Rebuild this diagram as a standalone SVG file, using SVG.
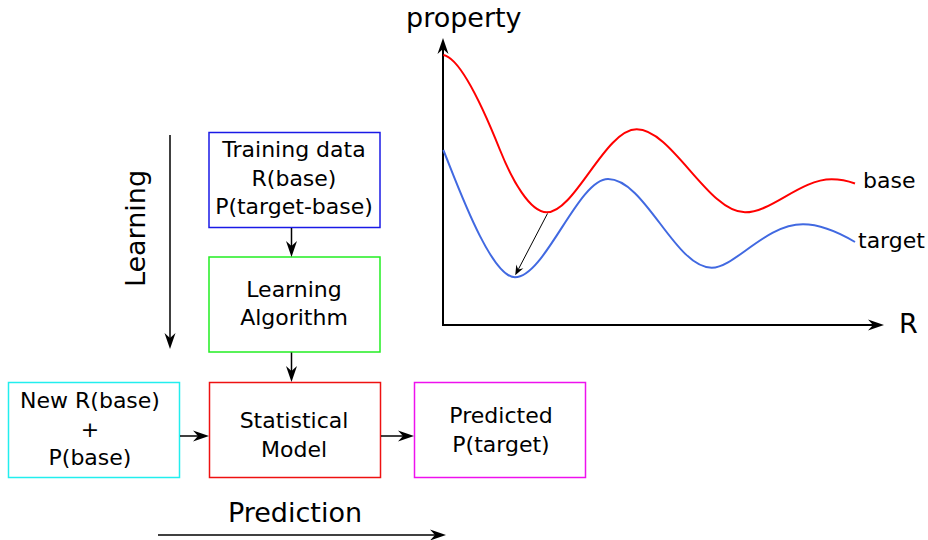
<svg xmlns="http://www.w3.org/2000/svg" width="928" height="540" viewBox="0 0 928 540">
<style>
text{font-family:"DejaVu Sans","Liberation Sans",sans-serif;fill:#000}
.t{font-size:22px;text-anchor:middle}
.big{font-size:27px}
.box{fill:#fff;stroke-width:1.5}
.ln{fill:none;stroke:#000;stroke-width:1.5}
.ax{fill:none;stroke:#000;stroke-width:2}
</style>
<defs>
<marker id="ah" markerUnits="userSpaceOnUse" markerWidth="17" markerHeight="12" refX="6" refY="5.5" orient="auto" overflow="visible">
<path d="M16,5.5 L0,0 L5,5.5 L0,11 Z" fill="#000"/>
</marker>
<marker id="ahs" markerUnits="userSpaceOnUse" markerWidth="11" markerHeight="8" refX="4" refY="4" orient="auto" overflow="visible">
<path d="M10,4 L0,0 L3.5,4 L0,8 Z" fill="#000"/>
</marker>
</defs>
<rect width="928" height="540" fill="#fff"/>

<g id="training">
<rect class="box" x="209" y="132.5" width="171" height="95" stroke="#1a1ae6"/>
<text class="t" x="294" y="157">Training data</text>
<text class="t" x="294" y="185.5">R(base)</text>
<text class="t" x="294" y="214">P(target-base)</text>
</g>
<g id="algorithm">
<rect class="box" x="209" y="257" width="171" height="95" stroke="#22ee22"/>
<text class="t" x="294" y="297">Learning</text>
<text class="t" x="294" y="325">Algorithm</text>
</g>
<g id="newbase">
<rect class="box" x="8.5" y="382.5" width="171" height="95" stroke="#22eeee"/>
<text class="t" x="90" y="408">New R(base)</text>
<text class="t" x="90" y="436.5">+</text>
<text class="t" x="90" y="465">P(base)</text>
</g>
<g id="model">
<rect class="box" x="209.5" y="382.5" width="171" height="95" stroke="#ee1111"/>
<text class="t" x="294" y="428.3">Statistical</text>
<text class="t" x="294" y="456.7">Model</text>
</g>
<g id="predicted">
<rect class="box" x="414.5" y="382.5" width="171" height="95" stroke="#ee11ee"/>
<text class="t" x="501" y="423.3">Predicted</text>
<text class="t" x="501" y="452">P(target)</text>
</g>

<g id="connectors">
<path class="ln" d="M291.5,228 V247" marker-end="url(#ah)"/>
<path class="ln" d="M291.5,352.5 V372" marker-end="url(#ah)"/>
<path class="ln" d="M180,436 H199" marker-end="url(#ah)"/>
<path class="ln" d="M381,436 H404" marker-end="url(#ah)"/>
<path class="ln" d="M170,135 V339" marker-end="url(#ah)"/>
<path class="ln" d="M158,535 H436" marker-end="url(#ah)"/>
</g>

<g id="labels">
<text class="big" transform="translate(145,228.5) rotate(-90)" text-anchor="middle">Learning</text>
<text class="big" x="295" y="521.7" text-anchor="middle">Prediction</text>
</g>

<g id="chart">
<path class="ax" d="M443,326 V48" marker-end="url(#ah)"/>
<path class="ax" d="M442,325 H874" marker-end="url(#ah)"/>
<path d="M443.3,55 C462,58 488,120 500,150 C512,180 530,212.3 546.7,212.3 C575,212.3 605,129.3 636.7,129.3 C672,129.3 708,212.3 745,212.3 C772,212.3 800,179.3 831.7,179.3 C840,179.3 848,181 855,183.5" fill="none" stroke="#ff0000" stroke-width="2"/>
<path d="M443.3,150 C455,178 490,277.3 515,277.3 C545,277.3 578,179 608,179 C645,179 675,267.7 711.7,267.7 C735,267.7 765,224.3 803,224.3 C820,224.3 838,232 855,242" fill="none" stroke="#4169e1" stroke-width="2"/>
<path d="M547.5,213.5 L518,270" fill="none" stroke="#000" stroke-width="1" marker-end="url(#ahs)"/>
<text class="big" x="406" y="27">property</text>
<text class="big" x="899" y="333">R</text>
<text x="863" y="188" font-size="22px">base</text>
<text x="858" y="248" font-size="22px">target</text>
</g>
</svg>
